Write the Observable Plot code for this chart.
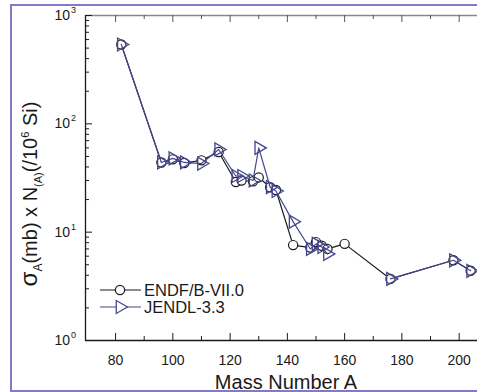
<!DOCTYPE html>
<html>
<head>
<meta charset="utf-8">
<script src="https://cdn.jsdelivr.net/npm/d3@7"></script>
<script src="https://cdn.jsdelivr.net/npm/@observablehq/plot@0.6"></script>
<style>
  html, body { margin: 0; padding: 0; background: #fff; overflow: hidden; }
  #wrap { position: relative; width: 477px; height: 392px; overflow: hidden; }
  #border { position: absolute; left: 10px; top: 4px; width: 540px; height: 384px;
            border: 2px solid #8479c9; pointer-events: none; }
</style>
</head>
<body>
<div id="wrap"><div id="border"></div></div>
<script>
// ---- data ----
const massA = [82, 96, 100, 104, 110, 116, 122, 124, 128, 130, 134, 136, 142, 148, 150, 152, 154, 160, 176, 198, 204];
const endfValues = [540, 44, 47, 43.5, 46, 55, 29, 30, 29.5, 32, 26, 24.5, 7.6, 7.2, 8.1, 7.5, 7.0, 7.8, 3.7, 5.5, 4.4];
const jendlValues = [540, 44, 48, 44, 43, 58, 33, 33, 30, 60, 26, 24, 12.5, 7.0, 7.8, 7.3, 6.3, null, 3.7, 5.5, 4.4];
const seriesNames = ["ENDF/B-VII.0", "JENDL-3.3"];
const xMajorTicks = [80, 100, 120, 140, 160, 180, 200];
const xMinorTicks = [90, 110, 130, 150, 170, 190];
const yMajorTicks = [1, 10, 100, 1000];
const yTickExponents = ["0", "1", "2", "3"];
const xDomain = [69.5, 206.4];
const yDomain = [1, 1000];

const endf = massA.map((a, i) => ({A: a, v: endfValues[i]}));
const jendl = massA.map((a, i) => ({A: a, v: jendlValues[i]}));
const yMinorTicks = [];
for (const d of [1, 10, 100]) for (let k = 2; k <= 9; k++) yMinorTicks.push(d * k);

const W = 477, H = 392, mL = 85, mR = 0, mT = 15, mB = 52;
const fw = W - mL - mR, fh = H - mT - mB;
const black = "#1a1a1a", blue = "#45458f";

const plot = Plot.plot({
  width: W, height: H,
  marginLeft: mL, marginRight: mR, marginTop: mT, marginBottom: mB,
  x: {domain: xDomain, axis: null},
  y: {type: "log", domain: yDomain, axis: null},
  style: {fontFamily: "'Liberation Sans', Arial, sans-serif", background: "transparent", overflow: "visible"},
  marks: [
    // frame (left, bottom, top)
    Plot.ruleY([yDomain[0]], {stroke: black, strokeWidth: 1.3}),
    Plot.ruleY([yDomain[1]], {stroke: "#888", strokeWidth: 1.3}),
    Plot.ruleX([xDomain[0]], {stroke: black, strokeWidth: 1.3}),
    // inward ticks
    Plot.tickX(xMajorTicks, {x: d => d, insetTop: fh - 7, stroke: black}),
    Plot.tickX(xMinorTicks, {x: d => d, insetTop: fh - 4, stroke: black}),
    Plot.tickX(xMajorTicks, {x: d => d, insetBottom: fh - 7, stroke: "#555"}),
    Plot.tickX(xMinorTicks, {x: d => d, insetBottom: fh - 4, stroke: "#555"}),
    Plot.tickY(yMajorTicks, {y: d => d, insetRight: fw - 7, stroke: black}),
    Plot.tickY(yMinorTicks, {y: d => d, insetRight: fw - 4, stroke: black}),
    // x tick labels
    Plot.axisX(xMajorTicks, {tickSize: 0, tickPadding: 15, fontSize: 14, label: null, tickFormat: d => String(d), fill: black}),
    // data
    Plot.line(endf, {x: "A", y: "v", stroke: black, strokeWidth: 1.2}),
    Plot.dot(endf, {x: "A", y: "v", r: 4.6, stroke: black, fill: "white", strokeWidth: 1.2}),
    Plot.line(jendl, {x: "A", y: "v", stroke: blue, strokeWidth: 1.2}),
    Plot.dot(jendl.filter(d => d.v != null), {x: "A", y: "v", symbol: "triangle", r: 4.8, rotate: 90, stroke: blue, fill: "none", strokeWidth: 1.3})
  ]
});

const svg = d3.select(plot);
const ys = plot.scale("y");
const font = "'Liberation Sans', Arial, sans-serif";

// y tick labels with superscripts
yMajorTicks.forEach((v, i) => {
  svg.append("text")
    .attr("x", 70).attr("y", ys.apply(v) + 5)
    .attr("text-anchor", "end")
    .attr("font-family", font).attr("font-size", 14).attr("fill", black)
    .text("10");
  svg.append("text")
    .attr("x", 71).attr("y", ys.apply(v) - 2)
    .attr("text-anchor", "start")
    .attr("font-family", font).attr("font-size", 9).attr("fill", black)
    .text(yTickExponents[i]);
});

// y axis label
const yl = svg.append("text")
  .attr("transform", "translate(37,194) rotate(-90)")
  .attr("text-anchor", "middle")
  .attr("font-family", font).attr("font-size", 20).attr("fill", black);
yl.append("tspan").attr("font-size", 24).text("σ");
yl.append("tspan").attr("font-size", 12).attr("dy", 5).text("A");
yl.append("tspan").attr("dy", -5).text("(mb) x N");
yl.append("tspan").attr("font-size", 11).attr("dy", 5).text("(A)");
yl.append("tspan").attr("dy", -5).text("(/10");
yl.append("tspan").attr("font-size", 11).attr("dy", -8).text("6");
yl.append("tspan").attr("dy", 8).text(" Si)");

// x axis label
svg.append("text")
  .attr("x", 286).attr("y", 389)
  .attr("text-anchor", "middle")
  .attr("font-family", font).attr("font-size", 20).attr("fill", black)
  .text("Mass Number A");

// legend
const lg = svg.append("g");
const rows = [{y: 290, color: black, sym: "circle"}, {y: 307, color: blue, sym: "triangle"}];
rows.forEach((r, i) => {
  lg.append("line").attr("x1", 100).attr("x2", 141).attr("y1", r.y).attr("y2", r.y)
    .attr("stroke", r.color).attr("stroke-width", 1.2);
  if (r.sym === "circle") {
    lg.append("circle").attr("cx", 120).attr("cy", r.y).attr("r", 4.6)
      .attr("fill", "white").attr("stroke", r.color).attr("stroke-width", 1.2);
  } else {
    lg.append("path").attr("d", d3.symbol(d3.symbolTriangle, Math.PI * 4.8 * 4.8)())
      .attr("transform", `translate(120,${r.y}) rotate(90)`)
      .attr("fill", "white").attr("stroke", r.color).attr("stroke-width", 1.3);
  }
  lg.append("text").attr("x", 144).attr("y", r.y + 6)
    .attr("text-anchor", "start")
    .attr("font-family", font).attr("font-size", 16.5).attr("fill", black)
    .text(seriesNames[i]);
});

document.getElementById("wrap").insertBefore(plot, document.getElementById("border"));
</script>
</body>
</html>
